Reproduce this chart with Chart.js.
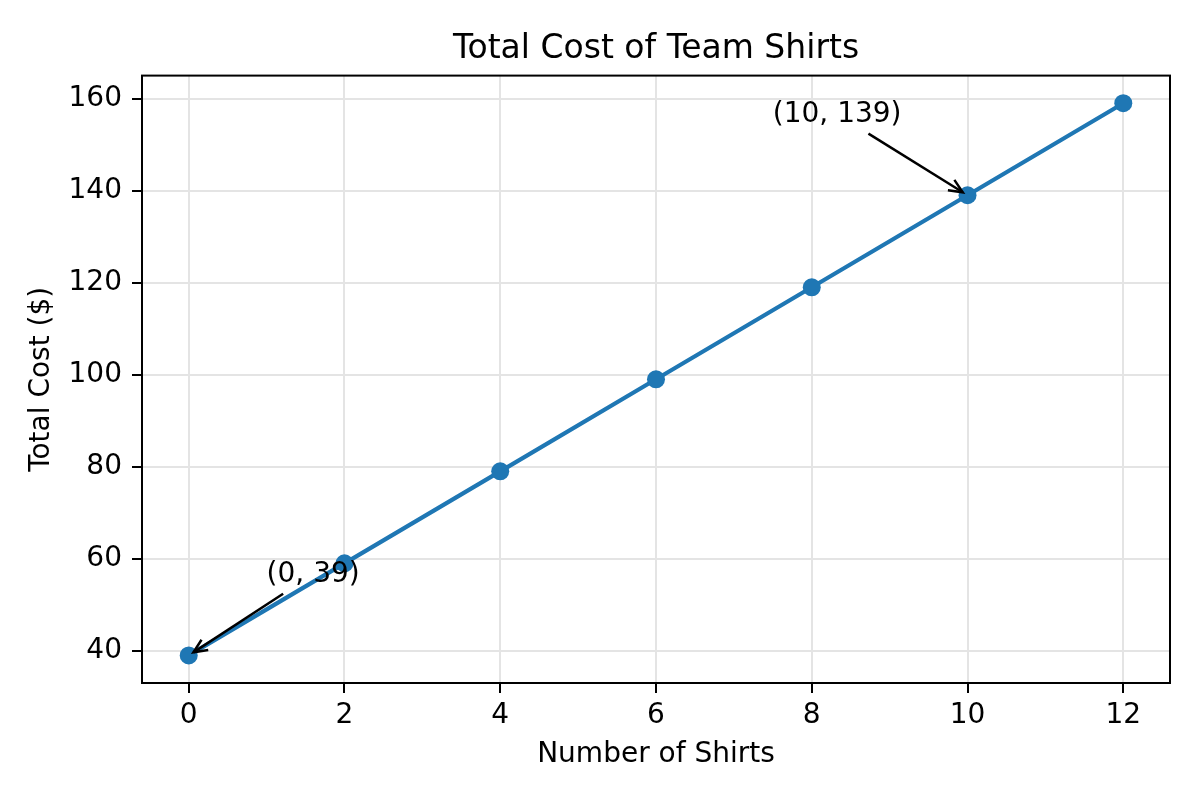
<!DOCTYPE html>
<html lang="en">
<head>
    <meta charset="UTF-8">
    <title>Total Cost of Team Shirts</title>
    <script src="https://cdn.jsdelivr.net/npm/chart.js"></script>
    <style>
        body {
            margin: 0;
            background: #fff;
        }
        #chart {
            display: block;
        }
    </style>
</head>
<body>
    <canvas id="chart" width="1200" height="800"></canvas>
    <script>
        // data
        const shirts = [0, 2, 4, 6, 8, 10, 12];
        const totalCost = [39, 59, 79, 99, 119, 139, 159];
        const xTicks = [0, 2, 4, 6, 8, 10, 12];
        const yTicks = [40, 60, 80, 100, 120, 140, 160];

        // annotations: label, point it refers to, where the text sits
        const noteLabels = ['(0, 39)', '(10, 139)'];
        const notePointX = [0, 10];
        const notePointY = [39, 139];
        const noteTextX = [1, 7.5];
        const noteTextY = [55, 155];

        const FONT = "'DejaVu Sans', sans-serif";

        // axes frame + annotate() style arrows
        const frameAndNotes = {
            id: 'frameAndNotes',
            afterDraw(chart) {
                const ctx = chart.ctx;
                const area = chart.chartArea;
                const xs = chart.scales.x;
                const ys = chart.scales.y;

                ctx.save();
                ctx.strokeStyle = '#000';
                ctx.lineWidth = 2;
                ctx.strokeRect(area.left, area.top, area.right - area.left, area.bottom - area.top);

                ctx.font = '28px ' + FONT;
                ctx.fillStyle = '#000';
                ctx.textAlign = 'left';
                ctx.textBaseline = 'alphabetic';

                for (let i = 0; i < noteLabels.length; i++) {
                    const tx = xs.getPixelForValue(noteTextX[i]);
                    const ty = ys.getPixelForValue(noteTextY[i]);
                    const px = xs.getPixelForValue(notePointX[i]);
                    const py = ys.getPixelForValue(notePointY[i]);

                    ctx.fillText(noteLabels[i], tx, ty);

                    const m = ctx.measureText(noteLabels[i]);
                    const left = tx, right = tx + m.width;
                    const top = ty - 24, bottom = ty + 9;
                    const cx = (left + right) / 2, cy = (top + bottom) / 2;
                    const dx = px - cx, dy = py - cy;
                    const tX = dx > 0 ? (right - cx) / dx : (left - cx) / dx;
                    const tY = dy > 0 ? (bottom - cy) / dy : (top - cy) / dy;
                    const t = Math.min(tX, tY);
                    const len = Math.hypot(dx, dy);
                    const ux = dx / len, uy = dy / len;
                    const shrink = 5.6;
                    const sx = cx + dx * t + ux * shrink;
                    const sy = cy + dy * t + uy * shrink;
                    const ex = px - ux * shrink;
                    const ey = py - uy * shrink;

                    ctx.strokeStyle = '#000';
                    ctx.lineWidth = 2.5;
                    ctx.lineCap = 'butt';
                    ctx.beginPath();
                    ctx.moveTo(sx, sy);
                    ctx.lineTo(ex, ey);
                    ctx.stroke();

                    // open arrow head
                    const ang = Math.atan2(uy, ux);
                    const hl = 15, spread = 0.42;
                    ctx.beginPath();
                    ctx.moveTo(ex - hl * Math.cos(ang - spread), ey - hl * Math.sin(ang - spread));
                    ctx.lineTo(ex, ey);
                    ctx.lineTo(ex - hl * Math.cos(ang + spread), ey - hl * Math.sin(ang + spread));
                    ctx.stroke();
                }
                ctx.restore();
            }
        };

        const ctx = document.getElementById('chart').getContext('2d');
        new Chart(ctx, {
            type: 'line',
            data: {
                datasets: [{
                    data: shirts.map((s, i) => ({ x: s, y: totalCost[i] })),
                    borderColor: '#1f77b4',
                    backgroundColor: '#1f77b4',
                    borderWidth: 4.2,
                    pointRadius: 9,
                    pointBorderWidth: 0,
                    pointBackgroundColor: '#1f77b4',
                    tension: 0,
                    fill: false
                }]
            },
            options: {
                responsive: false,
                devicePixelRatio: 1,
                animation: false,
                layout: {
                    padding: { left: 0, right: 30, top: 0, bottom: 0 }
                },
                plugins: {
                    legend: { display: false },
                    tooltip: { enabled: false },
                    title: {
                        display: true,
                        fullSize: false,
                        text: 'Total Cost of Team Shirts',
                        color: '#000',
                        font: { family: FONT, size: 33, weight: 'normal' },
                        padding: { top: 30, bottom: 6 }
                    }
                },
                scales: {
                    x: {
                        type: 'linear',
                        min: -0.6,
                        max: 12.6,
                        afterBuildTicks: (s) => { s.ticks = xTicks.map(v => ({ value: v })); },
                        afterFit: (s) => { s.height = 117; },
                        border: { display: false },
                        grid: {
                            color: '#e4e4e4',
                            lineWidth: 2,
                            tickColor: '#000',
                            tickLength: 10,
                            tickWidth: 2
                        },
                        ticks: {
                            color: '#000',
                            font: { family: FONT, size: 28 },
                            padding: 6,
                            maxRotation: 0,
                            autoSkip: false
                        },
                        title: {
                            display: true,
                            text: 'Number of Shirts',
                            color: '#000',
                            font: { family: FONT, size: 28 },
                            padding: { top: 0, bottom: 28 }
                        }
                    },
                    y: {
                        type: 'linear',
                        min: 33,
                        max: 165,
                        afterBuildTicks: (s) => { s.ticks = yTicks.map(v => ({ value: v })); },
                        afterFit: (s) => { s.width = 142; },
                        border: { display: false },
                        grid: {
                            color: '#e4e4e4',
                            lineWidth: 2,
                            tickColor: '#000',
                            tickLength: 10,
                            tickWidth: 2
                        },
                        ticks: {
                            color: '#000',
                            font: { family: FONT, size: 28 },
                            padding: 10,
                            autoSkip: false
                        },
                        title: {
                            display: true,
                            text: 'Total Cost ($)',
                            color: '#000',
                            font: { family: FONT, size: 28 },
                            padding: { top: 25, bottom: 0 }
                        }
                    }
                }
            },
            plugins: [frameAndNotes]
        });
    </script>
</body>
</html>
